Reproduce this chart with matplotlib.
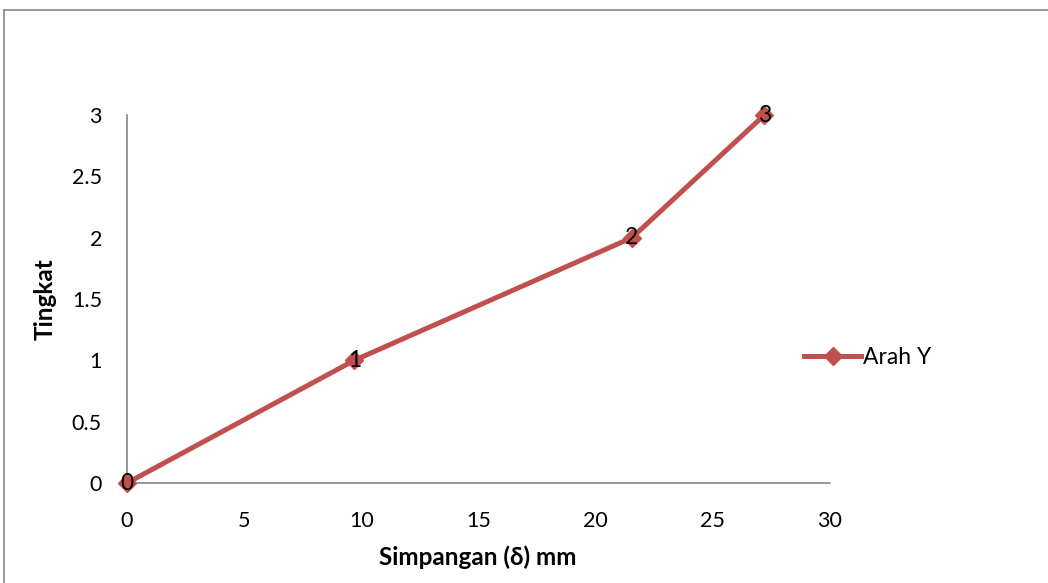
import matplotlib.pyplot as plt
from matplotlib.lines import Line2D

# data
simpangan = [0, 9.7, 21.55, 27.2]
tingkat = [0, 1, 2, 3]
point_labels = ['0', '1', '2', '3']

W, H = 1048, 583
plt.rcParams['font.family'] = ['Lato', 'DejaVu Sans']

fig = plt.figure(figsize=(W / 100, H / 100), dpi=100)
ax = fig.add_axes([127 / W, (H - 483) / H, (830 - 127) / W, (483 - 115) / H])

red = '#C0504D'
ax.plot(simpangan, tingkat, color=red, lw=3.6, marker='D', ms=9,
        label='Arah Y', clip_on=False, zorder=3)
for x, y, t in zip(simpangan, tingkat, point_labels):
    ax.text(x, y, t, ha='center', va='center', fontsize=16.5, zorder=4)

ax.set_xlim(0, 30)
ax.set_ylim(0, 3)
ax.set_xticks(range(0, 31, 5))
ax.set_yticks([0, 0.5, 1, 1.5, 2, 2.5, 3])
ax.set_yticklabels(['0', '0.5', '1', '1.5', '2', '2.5', '3'])
ax.tick_params(length=0, labelsize=15.5)
ax.tick_params(axis='y', pad=18)
ax.tick_params(axis='x', pad=20)
for s in ['top', 'right']:
    ax.spines[s].set_visible(False)
for s in ['left', 'bottom']:
    ax.spines[s].set_color('#888888')
    ax.spines[s].set_linewidth(1.2)

ax.set_xlabel('Simpangan (δ) mm', fontsize=17.5, fontweight='bold')
ax.set_ylabel('Tingkat', fontsize=17.5, fontweight='bold')
ax.xaxis.set_label_coords((478 - 127) / 703, (483 - 557) / 368)
ax.yaxis.set_label_coords((45 - 127) / 703, 0.5)
ax.xaxis.label.set_va('center')
ax.yaxis.label.set_va('center')

ax.legend(loc='center left', bbox_to_anchor=(795 / W, (H - 358) / H),
          bbox_transform=fig.transFigure, frameon=False, fontsize=16.5,
          handlelength=2.5, handletextpad=0.05, borderaxespad=0)

# outer chart-area border, only top and left visible in the crop
fig.add_artist(Line2D([4 / W, 1], [1 - 10 / H, 1 - 10 / H], color='#888888', lw=1.2))
fig.add_artist(Line2D([4 / W, 4 / W], [0, 1 - 10 / H], color='#888888', lw=1.2))

fig.savefig('out.png', dpi=100)
